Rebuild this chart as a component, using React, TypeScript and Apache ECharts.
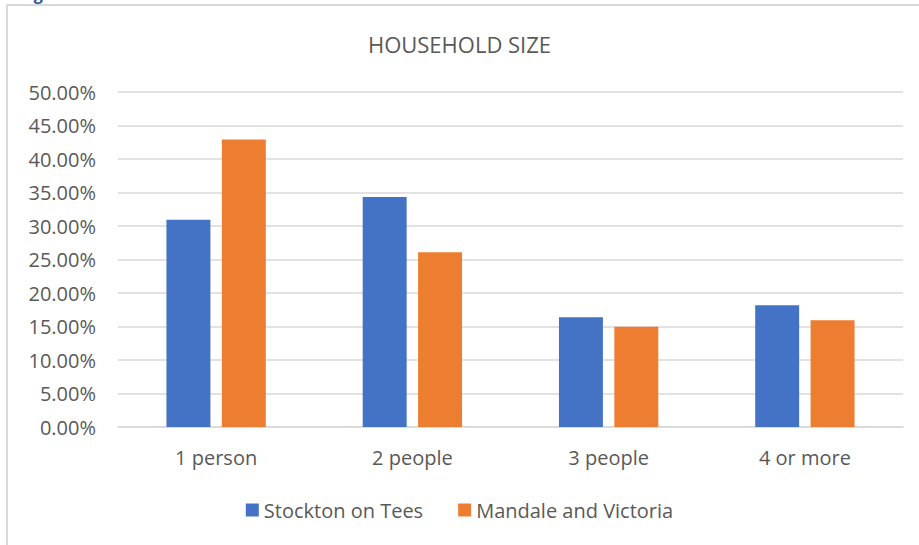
import React, { useEffect, useRef } from "react";
import * as echarts from "echarts";

const categories = ["1 person", "2 people", "3 people", "4 or more"];
const stocktonValues = [0.3095, 0.3433, 0.1637, 0.1817];
const mandaleValues = [0.4290, 0.2607, 0.1498, 0.1594];
const seriesNames = ["Stockton on Tees", "Mandale and Victoria"];
const chartTitle = "HOUSEHOLD SIZE";

const FONT = "'Open Sans', 'Noto Sans', sans-serif";
const TEXT = "#595959";

export default function App() {
  const ref = useRef<HTMLDivElement>(null);
  useEffect(() => {
    if (!ref.current) return;
    const chart = echarts.init(ref.current, null, { renderer: "svg" });
    chart.setOption({
      animation: false,
      backgroundColor: "#ffffff",
      title: {
        text: chartTitle,
        left: "center",
        top: 28,
        textStyle: { fontFamily: FONT, fontSize: 22, fontWeight: "normal", color: TEXT },
      },
      graphic: [
        {
          type: "rect",
          shape: { x: 7, y: 5, width: 1000, height: 1000 },
          style: { fill: "none", stroke: "#d9d9d9", lineWidth: 2 },
          silent: true,
        },
        {
          type: "text",
          left: 20,
          top: -14,
          style: { text: "Figure", fill: "#2f5597", font: "bold 16px 'Open Sans', sans-serif" },
        },
      ],
      legend: {
        bottom: 20,
        left: "center",
        itemWidth: 13,
        itemHeight: 13,
        itemGap: 35,
        icon: "rect",
        textStyle: { fontFamily: FONT, fontSize: 20, color: TEXT, padding: [0, 0, 0, 0] },
        data: seriesNames,
      },
      grid: { left: 118, right: 16, top: 92, bottom: 118, containLabel: false },
      xAxis: {
        type: "category",
        data: categories,
        axisLine: { lineStyle: { color: "#d9d9d9", width: 1.5 } },
        axisTick: { show: false },
        axisLabel: { fontFamily: FONT, fontSize: 20, color: TEXT, margin: 20 },
      },
      yAxis: {
        type: "value",
        min: 0,
        max: 0.5,
        interval: 0.05,
        axisLine: { show: false },
        axisTick: { show: false },
        splitLine: { lineStyle: { color: "#d9d9d9", width: 1.5 } },
        axisLabel: {
          fontFamily: FONT,
          fontSize: 20,
          color: TEXT,
          margin: 22,
          formatter: (v: number) => (v * 100).toFixed(2) + "%",
        },
      },
      series: [
        {
          name: seriesNames[0],
          type: "bar",
          data: stocktonValues,
          barWidth: "22.4%",
          barGap: "26%",
          itemStyle: { color: "#4472c4" },
        },
        {
          name: seriesNames[1],
          type: "bar",
          data: mandaleValues,
          barWidth: "22.4%",
          itemStyle: { color: "#ed7d31" },
        },
      ],
    });
    return () => chart.dispose();
  }, []);
  return (
    <div
      ref={ref}
      style={{ position: "fixed", left: 0, top: 0, width: 919, height: 545 }}
    />
  );
}
